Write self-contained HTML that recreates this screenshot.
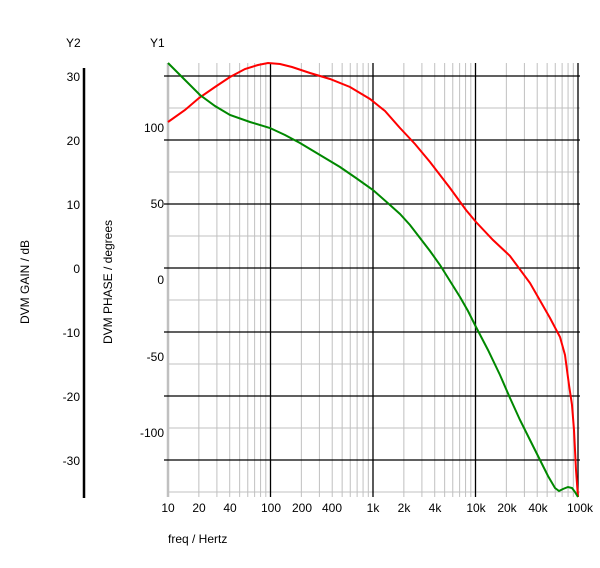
<!DOCTYPE html>
<html><head><style>
body{margin:0;background:#fff}
svg{font-family:"Liberation Sans",sans-serif;font-size:12px}
</style></head><body>
<svg id="s" width="600" height="563" xmlns="http://www.w3.org/2000/svg">
<g id="grid"></g>
<line x1="84" y1="68" x2="84" y2="498" stroke="#000" stroke-width="2.5"/>
<g text-anchor="end" fill="#000">
<text x="80" y="81">30</text><text x="80" y="145">20</text><text x="80" y="209">10</text>
<text x="80" y="273">0</text><text x="80" y="337">-10</text><text x="80" y="401">-20</text><text x="80" y="465">-30</text>
<text x="164" y="132">100</text><text x="164" y="208">50</text><text x="164" y="284">0</text>
<text x="164" y="361">-50</text><text x="164" y="437">-100</text>
</g>
<text x="66" y="47">Y2</text><text x="150" y="47">Y1</text>
<text transform="translate(29,282) rotate(-90)" text-anchor="middle">DVM GAIN / dB</text>
<text transform="translate(112,282) rotate(-90)" text-anchor="middle">DVM PHASE / degrees</text>
<g text-anchor="middle">
<text x="168" y="512">10</text><text x="199" y="512">20</text><text x="230" y="512">40</text>
<text x="271" y="512">100</text><text x="302" y="512">200</text><text x="332" y="512">400</text>
<text x="373" y="512">1k</text><text x="404" y="512">2k</text><text x="435" y="512">4k</text>
<text x="476" y="512">10k</text><text x="507" y="512">20k</text><text x="538" y="512">40k</text>
<text x="580" y="512">100k</text>
</g>
<text x="168" y="543">freq / Hertz</text>
<polyline fill="none" stroke="#f00" stroke-width="2" points="168,122 185,110 199,98 215,87 230,77 245,69 258,65 268,63 280,64 292,67 310,73 330,79 350,87 370,99 385,111 400,128 415,144 430,162 450,188 466,210 476,222 493,240 510,256 530,283 550,318 560,337 565,355 569,385 572,405 574,430 576,470 578,497"/>
<polyline fill="none" stroke="#080" stroke-width="2" points="168,63 185,80 200,95 215,106 230,115 250,122 270,128 285,135 300,143 320,155 340,167 356,178 373,190 390,205 400,214 410,225 420,238 430,251 440,265 450,281 460,297 468,311 476,327 488,350 500,375 510,398 520,420 530,440 540,460 548,476 555,488 559,491 563,489 568,487 572,488 575,492 578,497"/>
</svg>
<script>
var g=document.getElementById('grid'),ns='http://www.w3.org/2000/svg',h='';
function L(x1,y1,x2,y2,c,w){h+='<line x1="'+x1+'" y1="'+y1+'" x2="'+x2+'" y2="'+y2+'" stroke="'+c+'" stroke-width="'+w+'"/>';}
for(var y=108;y<=492;y+=64)L(168,y,580,y,'#c0c0c0',1);
for(var d=0;d<4;d++){var x0=168+d*102.5;for(var k=2;k<=9;k++){var x=x0+102.5*Math.log10(k);L(x,63,x,497,'#c0c0c0',1);}}
L(168,63,168,497,'#c0c0c0',2.5);
for(var y=76;y<=460;y+=64)L(164,y,580,y,'#000',1.3);
for(var d=1;d<=4;d++){var x=168+d*102.5;L(x,63,x,497,'#000',1.3);}
g.innerHTML=h;
</script>
</body></html>
